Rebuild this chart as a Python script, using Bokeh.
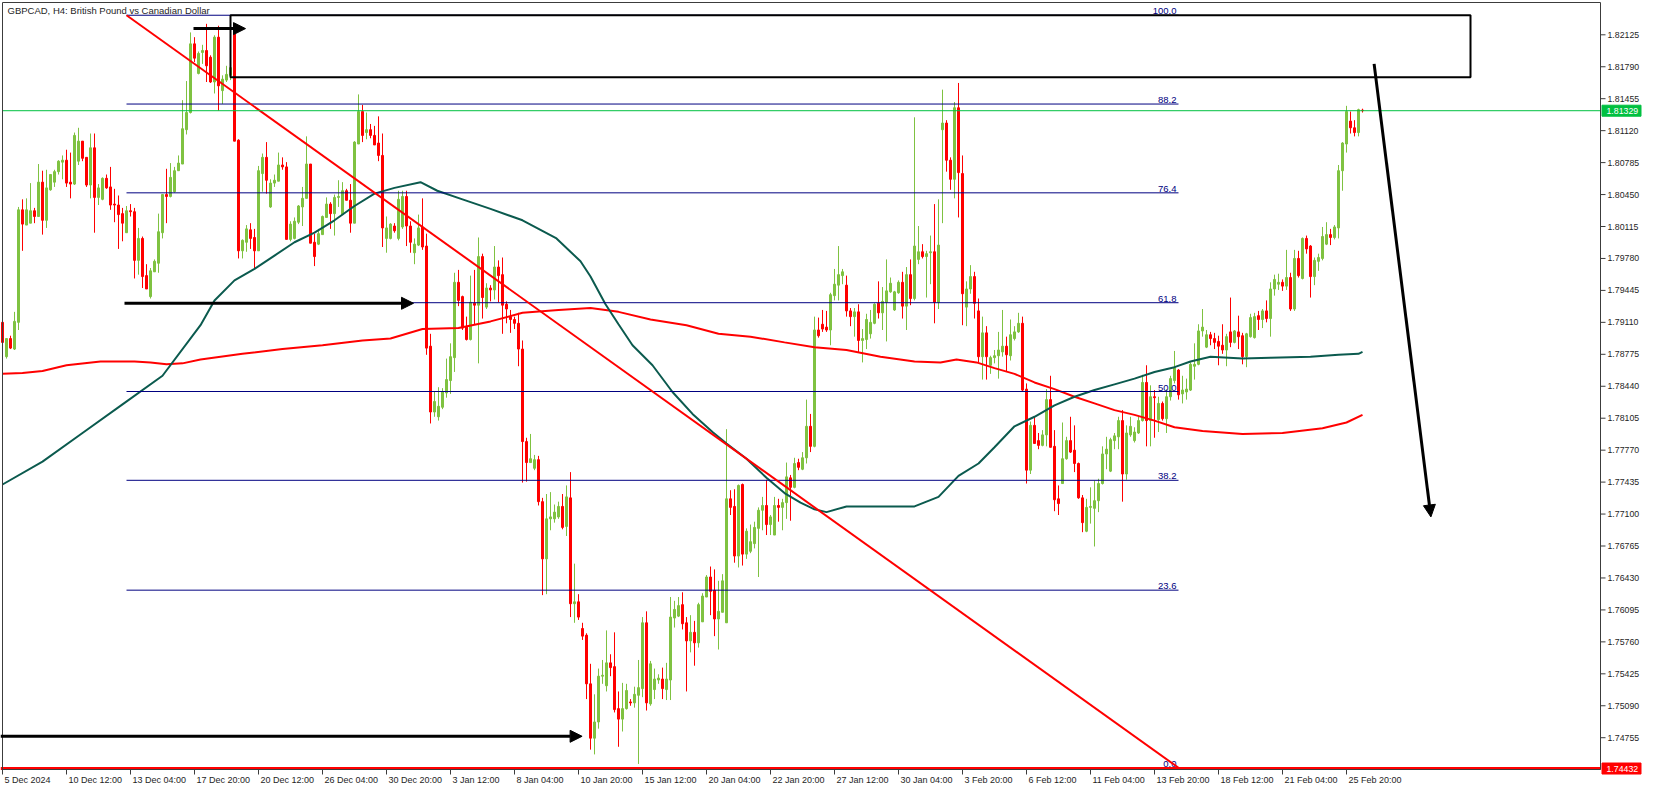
from bokeh.plotting import figure
from bokeh.models import ColumnDataSource, Range1d, Arrow, NormalHead
from bokeh.core.properties import value
from bokeh.embed import file_html
from bokeh.resources import INLINE

# ---------------- data (GBPCAD H4 candles) ----------------
bar_open = [
    1.7911, 1.7875, 1.7894, 1.7883, 1.7911, 1.8029, 1.8013, 1.8015, 1.8028, 1.8022,
    1.8058, 1.8018, 1.8050, 1.8058, 1.8069, 1.8079, 1.8081, 1.8058, 1.8056, 1.8080,
    1.8101, 1.8084, 1.8055, 1.8094, 1.8042, 1.8040, 1.8062, 1.8053, 1.8035, 1.8034,
    1.8025, 1.8005, 1.8028, 1.8027, 1.7976, 1.7999, 1.7960, 1.7938, 1.7964, 1.7973,
    1.8005, 1.8045, 1.8043, 1.8048, 1.8070, 1.8077, 1.8113, 1.8131, 1.8203, 1.8172,
    1.8194, 1.8196, 1.8189, 1.8163, 1.8210, 1.8154, 1.8165, 1.8170, 1.8218, 1.8102,
    1.7986, 1.7995, 1.8008, 1.8000, 1.7986, 1.8067, 1.8084, 1.8032, 1.8057, 1.8059,
    1.8076, 1.8074, 1.7998, 1.7999, 1.8016, 1.8032, 1.8041, 1.8077, 1.7995, 1.7993,
    1.8003, 1.8021, 1.8035, 1.8025, 1.8042, 1.8024, 1.8049, 1.8039, 1.8015, 1.8098,
    1.8132, 1.8110, 1.8113, 1.8107, 1.8099, 1.8086, 1.7999, 1.7999, 1.8012, 1.7999,
    1.8011, 1.8043, 1.8012, 1.7984, 1.7992, 1.8011, 1.7991, 1.7886, 1.7817, 1.7812,
    1.7822, 1.7837, 1.7850, 1.7874, 1.7953, 1.7938, 1.7906, 1.7893, 1.7931, 1.7929,
    1.7980, 1.7927, 1.7947, 1.7945, 1.7969, 1.7961, 1.7930, 1.7917, 1.7914, 1.7910,
    1.7883, 1.7786, 1.7764, 1.7758, 1.7767, 1.7723, 1.7663, 1.7705, 1.7705, 1.7707,
    1.7718, 1.7697, 1.7727, 1.7616, 1.7618, 1.7590, 1.7583, 1.7532, 1.7475, 1.7492,
    1.7540, 1.7530, 1.7554, 1.7550, 1.7506, 1.7495, 1.7506, 1.7513, 1.7512, 1.7520,
    1.7527, 1.7596, 1.7511, 1.7526, 1.7536, 1.7537, 1.7526, 1.7536, 1.7601, 1.7603,
    1.7615, 1.7596, 1.7577, 1.7586, 1.7575, 1.7597, 1.7623, 1.7644, 1.7630, 1.7600,
    1.7607, 1.7596, 1.7726, 1.7718, 1.7666, 1.7741, 1.7668, 1.7671, 1.7679, 1.7695,
    1.7714, 1.7719, 1.7699, 1.7688, 1.7719, 1.7717, 1.7722, 1.7748, 1.7738, 1.7764,
    1.7757, 1.7769, 1.7802, 1.7781, 1.7903, 1.7909, 1.7906, 1.7903, 1.7939, 1.7950,
    1.7960, 1.7950, 1.7923, 1.7917, 1.7922, 1.7892, 1.7893, 1.7899, 1.7910, 1.7931,
    1.7921, 1.7932, 1.7943, 1.7924, 1.7942, 1.7953, 1.7928, 1.7961, 1.7936, 1.7977,
    1.7985, 1.7980, 1.7984, 1.7985, 1.7932, 1.8113, 1.8120, 1.8081, 1.8061, 1.8136,
    1.8067, 1.7927, 1.7946, 1.7959, 1.7923, 1.7875, 1.7900, 1.7866, 1.7874, 1.7876,
    1.7880, 1.7886, 1.7876, 1.7894, 1.7901, 1.7910, 1.7841, 1.7756, 1.7803, 1.7787,
    1.7782, 1.7793, 1.7830, 1.7781, 1.7726, 1.7742, 1.7768, 1.7787, 1.7777, 1.7763,
    1.7727, 1.7692, 1.7717, 1.7716, 1.7724, 1.7742, 1.7773, 1.7755, 1.7787, 1.7791,
    1.7808, 1.7752, 1.7793, 1.7787, 1.7795, 1.7808, 1.7848, 1.7808, 1.7833, 1.7809,
    1.7826, 1.7810, 1.7833, 1.7850, 1.7861, 1.7836, 1.7838, 1.7840, 1.7865, 1.7867,
    1.7902, 1.7885, 1.7898, 1.7894, 1.7891, 1.7887, 1.7882, 1.7901, 1.7890, 1.7901,
    1.7897, 1.7875, 1.7896, 1.7895, 1.7918, 1.7914, 1.7923, 1.7915, 1.7946, 1.7951,
    1.7953, 1.7949, 1.7958, 1.7925, 1.7978, 1.7957, 1.7999, 1.7991, 1.7959, 1.7975,
    1.7978, 1.7993, 1.8003, 1.8000, 1.8010, 1.8070, 1.8098, 1.8122, 1.8115, 1.8110,
    1.81335,
]
bar_high = [
    1.7912, 1.7894, 1.7897, 1.7922, 1.8032, 1.8040, 1.8041, 1.8057, 1.8031, 1.8077,
    1.8070, 1.8071, 1.8066, 1.8071, 1.8081, 1.8086, 1.8092, 1.8089, 1.8110, 1.8115,
    1.8101, 1.8084, 1.8109, 1.8109, 1.8056, 1.8063, 1.8066, 1.8074, 1.8051, 1.8044,
    1.8031, 1.8033, 1.8035, 1.8031, 1.8010, 1.8001, 1.7972, 1.7968, 1.7977, 1.8025,
    1.8045, 1.8072, 1.8078, 1.8074, 1.8086, 1.8144, 1.8164, 1.8215, 1.8210, 1.8195,
    1.8202, 1.8224, 1.8191, 1.8212, 1.8222, 1.8170, 1.8180, 1.8185, 1.8220, 1.8103,
    1.7998, 1.8013, 1.8015, 1.8009, 1.8075, 1.8088, 1.8100, 1.8061, 1.8066, 1.8089,
    1.8084, 1.8079, 1.8017, 1.8021, 1.8034, 1.8053, 1.8106, 1.8077, 1.8004, 1.8009,
    1.8023, 1.8042, 1.8037, 1.8045, 1.8060, 1.8058, 1.8051, 1.8056, 1.8101, 1.8150,
    1.8139, 1.8131, 1.8119, 1.8117, 1.8127, 1.8109, 1.8022, 1.8015, 1.8015, 1.8049,
    1.8049, 1.8049, 1.8017, 1.7999, 1.8024, 1.8041, 1.8004, 1.7899, 1.7838, 1.7843,
    1.7842, 1.7873, 1.7889, 1.7963, 1.7966, 1.7939, 1.7917, 1.7960, 1.7966, 1.8000,
    1.7983, 1.7952, 1.7950, 1.7991, 1.7976, 1.7979, 1.7933, 1.7924, 1.7917, 1.7921,
    1.7892, 1.7790, 1.7794, 1.7772, 1.7771, 1.7727, 1.7731, 1.7733, 1.7720, 1.7723,
    1.7731, 1.7740, 1.7754, 1.7658, 1.7626, 1.7596, 1.7585, 1.7553, 1.7521, 1.7548,
    1.7557, 1.7588, 1.7563, 1.7586, 1.7524, 1.7533, 1.7532, 1.7516, 1.7529, 1.7557,
    1.7602, 1.7608, 1.7556, 1.7548, 1.7542, 1.7549, 1.7554, 1.7623, 1.7619, 1.7623,
    1.7628, 1.7602, 1.7604, 1.7598, 1.7617, 1.7627, 1.7646, 1.7655, 1.7652, 1.7640,
    1.7647, 1.7799, 1.7735, 1.7736, 1.7741, 1.7742, 1.7695, 1.7699, 1.7702, 1.7717,
    1.7728, 1.7746, 1.7709, 1.7728, 1.7726, 1.7726, 1.7764, 1.7751, 1.7769, 1.7768,
    1.7775, 1.7830, 1.7815, 1.7917, 1.7916, 1.7924, 1.7923, 1.7942, 1.7967, 1.7991,
    1.7967, 1.7960, 1.7926, 1.7926, 1.7930, 1.7904, 1.7920, 1.7924, 1.7931, 1.7954,
    1.7948, 1.7977, 1.7958, 1.7944, 1.7955, 1.7964, 1.7969, 1.7977, 1.8126, 1.8012,
    1.7993, 1.7986, 1.8002, 1.8035, 1.8040, 1.8155, 1.8123, 1.8084, 1.8142, 1.8162,
    1.8086, 1.7954, 1.7971, 1.7964, 1.7936, 1.7917, 1.7907, 1.7876, 1.7882, 1.7901,
    1.7924, 1.7896, 1.7914, 1.7907, 1.7921, 1.7917, 1.7847, 1.7807, 1.7812, 1.7795,
    1.7798, 1.7841, 1.7855, 1.7798, 1.7740, 1.7806, 1.7791, 1.7812, 1.7803, 1.7764,
    1.7730, 1.7726, 1.7738, 1.7745, 1.7747, 1.7781, 1.7791, 1.7790, 1.7795, 1.7812,
    1.7819, 1.7803, 1.7812, 1.7801, 1.7812, 1.7856, 1.7866, 1.7845, 1.7840, 1.7833,
    1.7828, 1.7841, 1.7855, 1.7881, 1.7862, 1.7855, 1.7852, 1.7869, 1.7889, 1.7909,
    1.7925, 1.7903, 1.7901, 1.7900, 1.7897, 1.7909, 1.7899, 1.7937, 1.7903, 1.7918,
    1.7900, 1.7900, 1.7920, 1.7921, 1.7923, 1.7925, 1.7934, 1.7953, 1.7961, 1.7962,
    1.7956, 1.7987, 1.7963, 1.7987, 1.7986, 1.8000, 1.8002, 1.7992, 1.7979, 1.7983,
    1.8011, 1.8016, 1.8009, 1.8013, 1.8076, 1.8100, 1.8138, 1.8132, 1.8123, 1.8135,
    1.8135,
]
bar_low = [
    1.7888, 1.7873, 1.7883, 1.7882, 1.7903, 1.7986, 1.8013, 1.8015, 1.8015, 1.8022,
    1.8003, 1.8010, 1.8049, 1.8053, 1.8066, 1.8061, 1.8053, 1.8041, 1.8055, 1.8076,
    1.8080, 1.8053, 1.8041, 1.8005, 1.8034, 1.8039, 1.8051, 1.8029, 1.8016, 1.7988,
    1.7996, 1.8005, 1.8022, 1.7957, 1.7961, 1.7947, 1.7946, 1.7936, 1.7964, 1.7963,
    1.7999, 1.8015, 1.8042, 1.8047, 1.8070, 1.8077, 1.8108, 1.8130, 1.8184, 1.8171,
    1.8182, 1.8163, 1.8162, 1.8151, 1.8133, 1.8140, 1.8163, 1.8165, 1.8101, 1.7978,
    1.7978, 1.7985, 1.7988, 1.7967, 1.7986, 1.8048, 1.8046, 1.8031, 1.8053, 1.8059,
    1.8071, 1.7998, 1.7996, 1.7998, 1.8014, 1.8012, 1.8041, 1.7994, 1.7970, 1.7992,
    1.8003, 1.8021, 1.8009, 1.8002, 1.8032, 1.8024, 1.8039, 1.8005, 1.8015, 1.8098,
    1.8100, 1.8103, 1.8104, 1.8097, 1.8080, 1.7990, 1.7984, 1.7998, 1.8005, 1.7997,
    1.8009, 1.7991, 1.7984, 1.7972, 1.7991, 1.7987, 1.7877, 1.7805, 1.7812, 1.7808,
    1.7820, 1.7832, 1.7836, 1.7859, 1.7928, 1.7903, 1.7892, 1.7892, 1.7909, 1.7868,
    1.7915, 1.7925, 1.7933, 1.7935, 1.7932, 1.7899, 1.7910, 1.7900, 1.7904, 1.7865,
    1.7743, 1.7744, 1.7764, 1.7756, 1.7719, 1.7625, 1.7626, 1.7693, 1.7701, 1.7705,
    1.7694, 1.7687, 1.7602, 1.7596, 1.7599, 1.7578, 1.7516, 1.7463, 1.7458, 1.7485,
    1.7532, 1.7524, 1.7540, 1.7502, 1.7466, 1.7482, 1.7505, 1.7509, 1.7507, 1.7448,
    1.7518, 1.7504, 1.7509, 1.7516, 1.7532, 1.7516, 1.7515, 1.7515, 1.7591, 1.7602,
    1.7589, 1.7524, 1.7565, 1.7551, 1.7570, 1.7597, 1.7623, 1.7604, 1.7582, 1.7568,
    1.7607, 1.7596, 1.7709, 1.7659, 1.7654, 1.7656, 1.7663, 1.7669, 1.7674, 1.7644,
    1.7693, 1.7688, 1.7688, 1.7688, 1.7702, 1.7693, 1.7705, 1.7703, 1.7737, 1.7756,
    1.7756, 1.7763, 1.7775, 1.7780, 1.7895, 1.7901, 1.7901, 1.7887, 1.7934, 1.7934,
    1.7951, 1.7917, 1.7907, 1.7896, 1.7880, 1.7869, 1.7883, 1.7894, 1.7909, 1.7915,
    1.7903, 1.7891, 1.7942, 1.7923, 1.7941, 1.7915, 1.7903, 1.7929, 1.7934, 1.7972,
    1.7978, 1.7937, 1.7951, 1.7910, 1.7925, 1.8015, 1.8069, 1.8050, 1.8041, 1.8021,
    1.7908, 1.7907, 1.7941, 1.7915, 1.7869, 1.7851, 1.7851, 1.7857, 1.7868, 1.7852,
    1.7875, 1.7859, 1.7871, 1.7892, 1.7900, 1.7838, 1.7742, 1.7752, 1.7784, 1.7778,
    1.7781, 1.7781, 1.7780, 1.7713, 1.7709, 1.7742, 1.7767, 1.7774, 1.7754, 1.7726,
    1.7691, 1.7691, 1.7700, 1.7676, 1.7712, 1.7741, 1.7757, 1.7754, 1.7778, 1.7778,
    1.7723, 1.7746, 1.7791, 1.7785, 1.7794, 1.7807, 1.7781, 1.7781, 1.7790, 1.7796,
    1.7808, 1.7795, 1.7829, 1.7847, 1.7830, 1.7826, 1.7830, 1.7839, 1.7851, 1.7866,
    1.7896, 1.7884, 1.7887, 1.7883, 1.7866, 1.7878, 1.7865, 1.7885, 1.7889, 1.7883,
    1.7867, 1.7864, 1.7895, 1.7894, 1.7903, 1.7905, 1.7911, 1.7896, 1.7939, 1.7945,
    1.7944, 1.7945, 1.7923, 1.7923, 1.7958, 1.7956, 1.7983, 1.7937, 1.7950, 1.7965,
    1.7976, 1.7992, 1.7992, 1.7998, 1.7999, 1.8049, 1.8089, 1.8109, 1.8106, 1.8106,
    1.8131,
]
bar_close = [
    1.7890, 1.7894, 1.7884, 1.7912, 1.8029, 1.8014, 1.8029, 1.8028, 1.8022, 1.8058,
    1.8018, 1.8052, 1.8066, 1.8069, 1.8080, 1.8081, 1.8057, 1.8056, 1.8107, 1.8101,
    1.8083, 1.8055, 1.8094, 1.8042, 1.8052, 1.8062, 1.8052, 1.8034, 1.8034, 1.8024,
    1.8015, 1.8028, 1.8027, 1.7976, 1.7999, 1.7959, 1.7946, 1.7965, 1.7975, 1.8006,
    1.8045, 1.8043, 1.8063, 1.8070, 1.8078, 1.8114, 1.8131, 1.8203, 1.8188, 1.8193,
    1.8196, 1.8180, 1.8163, 1.8210, 1.8159, 1.8166, 1.8171, 1.8178, 1.8101, 1.7986,
    1.7997, 1.8009, 1.7999, 1.7986, 1.8070, 1.8084, 1.8060, 1.8057, 1.8060, 1.8076,
    1.8074, 1.7998, 1.8014, 1.8017, 1.8033, 1.8041, 1.8077, 1.7994, 1.7980, 1.8004,
    1.8022, 1.8035, 1.8025, 1.8042, 1.8043, 1.8049, 1.8039, 1.8015, 1.8100, 1.8132,
    1.8107, 1.8113, 1.8107, 1.8097, 1.8086, 1.8010, 1.8010, 1.8014, 1.8007, 1.8040,
    1.8043, 1.8012, 1.7995, 1.7993, 1.8010, 1.7990, 1.7884, 1.7817, 1.7828, 1.7823,
    1.7838, 1.7851, 1.7875, 1.7953, 1.7934, 1.7905, 1.7893, 1.7932, 1.7929, 1.7980,
    1.7937, 1.7947, 1.7945, 1.7969, 1.7960, 1.7929, 1.7925, 1.7914, 1.7910, 1.7883,
    1.7786, 1.7764, 1.7768, 1.7767, 1.7723, 1.7663, 1.7705, 1.7707, 1.7712, 1.7718,
    1.7696, 1.7728, 1.7616, 1.7618, 1.7602, 1.7582, 1.7532, 1.7475, 1.7492, 1.7540,
    1.7541, 1.7554, 1.7549, 1.7505, 1.7495, 1.7506, 1.7525, 1.7512, 1.7521, 1.7528,
    1.7596, 1.7512, 1.7553, 1.7537, 1.7538, 1.7527, 1.7537, 1.7602, 1.7610, 1.7614,
    1.7595, 1.7577, 1.7586, 1.7575, 1.7615, 1.7624, 1.7644, 1.7629, 1.7600, 1.7608,
    1.7640, 1.7726, 1.7717, 1.7666, 1.7740, 1.7668, 1.7692, 1.7681, 1.7696, 1.7714,
    1.7719, 1.7699, 1.7707, 1.7719, 1.7717, 1.7722, 1.7749, 1.7738, 1.7763, 1.7759,
    1.7769, 1.7802, 1.7781, 1.7903, 1.7897, 1.7904, 1.7903, 1.7940, 1.7951, 1.7961,
    1.7964, 1.7923, 1.7917, 1.7922, 1.7892, 1.7894, 1.7914, 1.7911, 1.7930, 1.7921,
    1.7933, 1.7944, 1.7952, 1.7943, 1.7953, 1.7928, 1.7961, 1.7936, 1.7991, 1.7985,
    1.7980, 1.7983, 1.7985, 1.7932, 1.7992, 1.8120, 1.8081, 1.8061, 1.8136, 1.8068,
    1.7941, 1.7946, 1.7959, 1.7931, 1.7875, 1.7900, 1.7875, 1.7874, 1.7876, 1.7882,
    1.7886, 1.7877, 1.7898, 1.7901, 1.7910, 1.7840, 1.7756, 1.7803, 1.7784, 1.7782,
    1.7793, 1.7830, 1.7780, 1.7725, 1.7721, 1.7768, 1.7787, 1.7775, 1.7763, 1.7727,
    1.7701, 1.7717, 1.7718, 1.7724, 1.7742, 1.7773, 1.7778, 1.7788, 1.7792, 1.7808,
    1.7752, 1.7795, 1.7802, 1.7796, 1.7808, 1.7848, 1.7808, 1.7833, 1.7832, 1.7826,
    1.7810, 1.7833, 1.7852, 1.7864, 1.7835, 1.7840, 1.7841, 1.7867, 1.7867, 1.7902,
    1.7906, 1.7898, 1.7894, 1.7890, 1.7886, 1.7882, 1.7896, 1.7890, 1.7902, 1.7896,
    1.7875, 1.7899, 1.7916, 1.7917, 1.7914, 1.7923, 1.7915, 1.7946, 1.7956, 1.7953,
    1.7949, 1.7958, 1.7925, 1.7978, 1.7960, 1.7999, 1.7988, 1.7959, 1.7976, 1.7979,
    1.8001, 1.8003, 1.8000, 1.8011, 1.8070, 1.8099, 1.8132, 1.8115, 1.8110, 1.8134,
    1.81329,
]

# moving averages (bar index, value)
ma_fast_index = [0, 10, 20, 30, 40, 49.5, 53, 58, 63, 68, 73, 78, 83, 88, 93, 98, 104.5,
                 108.7, 115, 122, 130, 138.5, 144.5, 147, 150.75, 154, 157.5, 162.5, 167.5,
                 172.5, 177.5, 181, 186, 191, 195.5, 199.5, 203, 206, 211, 218, 228, 234,
                 239, 244, 248, 253, 258, 263, 268, 273, 278, 283, 288, 293, 297, 302, 310,
                 317, 327, 334, 339, 340]
ma_fast_value = [1.7741, 1.7765, 1.7795, 1.7825, 1.7855, 1.7908, 1.7934, 1.7955, 1.7967,
                 1.7981, 1.7995, 1.8005, 1.8018, 1.8033, 1.8046, 1.8052, 1.8058, 1.8049,
                 1.8040, 1.8030, 1.8018, 1.7999, 1.7975, 1.7959, 1.7930, 1.7909, 1.7887,
                 1.7866, 1.7838, 1.7815, 1.7796, 1.7784, 1.7768, 1.7748, 1.7732, 1.7722,
                 1.7715, 1.7712, 1.7718, 1.7718, 1.7718, 1.7728, 1.7750, 1.7763, 1.7780,
                 1.7802, 1.7812, 1.7824, 1.7833, 1.7840, 1.7846, 1.7852, 1.7859, 1.7864,
                 1.7870, 1.7875, 1.7873, 1.7874, 1.7875, 1.7877, 1.7878, 1.7880]
ma_slow_index = [0, 5, 10, 16, 24.5, 33, 37, 41, 45, 49.5, 60, 70, 80, 90, 97, 105, 114,
                 122, 130, 139, 147, 154, 162, 171, 179, 187, 195.5, 203, 211, 219.5, 228,
                 234.5, 238.5, 243.5, 248, 253, 258, 263, 268, 273, 278, 283, 288, 293, 300,
                 310, 320, 330, 336, 340]
ma_slow_value = [1.7857, 1.7858, 1.7860, 1.7866, 1.7870, 1.7870, 1.7869, 1.7867, 1.7868,
                 1.7872, 1.7878, 1.7883, 1.7887, 1.7892, 1.7894, 1.7904, 1.7905, 1.7912,
                 1.7921, 1.7924, 1.7926, 1.7922, 1.7914, 1.7908, 1.7899, 1.7896, 1.7890,
                 1.7885, 1.7882, 1.7875, 1.7870, 1.7869, 1.7872, 1.7869, 1.7863, 1.7857,
                 1.7848, 1.7841, 1.7833, 1.7826, 1.7819, 1.7814, 1.7808, 1.7801, 1.7797,
                 1.7794, 1.7795, 1.7800, 1.7806, 1.7814]

# Fibonacci retracement
fib_levels = [0.0, 23.6, 38.2, 50.0, 61.8, 76.4, 88.2, 100.0]
fib_labels = ["0.0", "23.6", "38.2", "50.0", "61.8", "76.4", "88.2", "100.0"]
fib_low = 1.7444
fib_high = 1.8233
fib_start_index = 31
fib_end_index = 294

# rectangle zone
zone_left_index = 57
zone_right_index = 367
zone_top = 1.8233
zone_bottom = 1.8168

# arrows: start / end in (bar index, price)
arrow_x_start = [47.75, 30.5, -0.5, 342.9]
arrow_y_start = [1.8219, 1.7931, 1.7477, 1.8182]
arrow_x_end = [60.75, 102.75, 144.9, 357.1]
arrow_y_end = [1.8219, 1.7931, 1.7477, 1.7707]

current_price = 1.81329
low_line_price = 1.74432

date_tick_index = [0, 16, 32, 48, 64, 80, 96, 112, 128, 144, 160, 176, 192, 208, 224,
                   240, 256, 272, 288, 304, 320, 336]
date_tick_labels = ["5 Dec 2024", "10 Dec 12:00", "13 Dec 04:00", "17 Dec 20:00",
                    "20 Dec 12:00", "26 Dec 04:00", "30 Dec 20:00", "3 Jan 12:00",
                    "8 Jan 04:00", "10 Jan 20:00", "15 Jan 12:00", "20 Jan 04:00",
                    "22 Jan 20:00", "27 Jan 12:00", "30 Jan 04:00", "3 Feb 20:00",
                    "6 Feb 12:00", "11 Feb 04:00", "13 Feb 20:00", "18 Feb 12:00",
                    "21 Feb 04:00", "25 Feb 20:00"]
price_ticks = [1.74755, 1.75090, 1.75425, 1.75760, 1.76095, 1.76430, 1.76765, 1.77100,
               1.77435, 1.77770, 1.78105, 1.78440, 1.78775, 1.79110, 1.79445, 1.79780,
               1.80115, 1.80450, 1.80785, 1.81120, 1.81455, 1.81790, 1.82125]
price_tick_labels = ["%.5f" % t for t in price_ticks]

title_text = "GBPCAD, H4:  British Pound vs Canadian Dollar"

# ---------------- layout / styling ----------------
FONT = "Liberation Sans"
BULL = "#7FC241"
BEAR = "#FF0000"
TEAL = "#0B5A4E"
NAVY = "#000080"
LIME = "#00C040"
AXIS = "#3c3c3c"
TXT = "#1e1e1e"

W, H = 1650, 788
BAR_PX = 4.0                     # pixels per bar
PRICE_PX = 9537.5                # pixels per price unit
PX_X = 1.0 / BAR_PX              # one pixel in bar units
PX_Y = 1.0 / PRICE_PX            # one pixel in price units
X0 = -0.5
X1 = X0 + W * PX_X
Y1 = 1.82125 + 34.3 * PX_Y
Y0 = Y1 - H * PX_Y

AXIS_X = X0 + 1600 * PX_X        # right price-axis line
CHART_LEFT = X0 + 2 * PX_X
CHART_TOP = Y1 - 2 * PX_Y
CHART_BOTTOM = Y1 - 769 * PX_Y   # time-axis line

p = figure(width=W, height=H, x_range=Range1d(X0, X1), y_range=Range1d(Y0, Y1),
           x_axis_location=None, y_axis_location=None, min_border=0,
           outline_line_color=None, output_backend="svg", toolbar_location=None,
           background_fill_color="white", border_fill_color="white")
for g in p.grid:
    g.visible = False

# candles
bar_index = list(range(len(bar_close)))
colors = [BULL if c >= o else BEAR for o, c in zip(bar_open, bar_close)]
src = ColumnDataSource(dict(
    x=bar_index, h=bar_high, l=bar_low,
    top=[max(o, c) for o, c in zip(bar_open, bar_close)],
    bottom=[min(o, c) for o, c in zip(bar_open, bar_close)],
    color=colors))
p.segment(x0="x", y0="l", x1="x", y1="h", line_color="color", line_width=1, source=src)
p.vbar(x="x", width=0.5, top="top", bottom="bottom", fill_color="color",
       line_color="color", line_width=1, source=src)

# moving averages
p.line(ma_slow_index, ma_slow_value, line_color="#FF0000", line_width=2)
p.line(ma_fast_index, ma_fast_value, line_color=TEAL, line_width=2)

# fibonacci
fib_prices = [fib_low + lv / 100.0 * (fib_high - fib_low) for lv in fib_levels]
fsrc = ColumnDataSource(dict(
    x0=[fib_start_index] * len(fib_prices), x1=[fib_end_index] * len(fib_prices),
    y=fib_prices, t=fib_labels))
p.segment(x0="x0", y0="y", x1="x1", y1="y", line_color=NAVY, line_width=1, source=fsrc)
p.text(x="x1", y="y", text="t", source=fsrc, x_offset=-2, y_offset=-4,
       text_align="right", text_baseline="alphabetic",
       text_font=value(FONT), text_font_size="9.5px", text_color=NAVY)
p.line([fib_start_index, fib_end_index], [fib_high, fib_low], line_color="#FF0000",
       line_width=2)

# horizontal price lines
p.segment(x0=[CHART_LEFT], y0=[current_price], x1=[AXIS_X], y1=[current_price],
          line_color=LIME, line_width=1)
p.segment(x0=[X0], y0=[low_line_price], x1=[AXIS_X], y1=[low_line_price],
          line_color="#FF0000", line_width=3)

# zone rectangle
p.quad(left=[zone_left_index], right=[zone_right_index], top=[zone_top],
       bottom=[zone_bottom], fill_alpha=0, line_color="black", line_width=2)

# arrows
for xs, ys, xe, ye in zip(arrow_x_start, arrow_y_start, arrow_x_end, arrow_y_end):
    p.add_layout(Arrow(end=NormalHead(size=12, fill_color="black", line_color="black"),
                       x_start=xs, y_start=ys, x_end=xe, y_end=ye,
                       line_color="black", line_width=3))

# chart border (left/top) and axis lines (right/bottom)
p.quad(left=[CHART_LEFT], right=[AXIS_X], top=[CHART_TOP], bottom=[CHART_BOTTOM],
       fill_alpha=0, line_color=AXIS, line_width=1)

# price axis: ticks + labels
n_pt = len(price_ticks)
psrc = ColumnDataSource(dict(x0=[AXIS_X] * n_pt, x1=[AXIS_X + 5 * PX_X] * n_pt,
                             y=price_ticks, t=price_tick_labels))
p.segment(x0="x0", y0="y", x1="x1", y1="y", line_color=AXIS, line_width=1, source=psrc)
p.text(x="x0", y="y", text="t", source=psrc, x_offset=7, y_offset=0,
       text_align="left", text_baseline="middle",
       text_font=value(FONT), text_font_size="8.75px", text_color=TXT)

# time axis: ticks + labels
n_dt = len(date_tick_index)
dsrc = ColumnDataSource(dict(x=date_tick_index, y0=[CHART_BOTTOM] * n_dt,
                             y1=[CHART_BOTTOM - 5 * PX_Y] * n_dt, t=date_tick_labels))
p.segment(x0="x", y0="y0", x1="x", y1="y1", line_color=AXIS, line_width=1, source=dsrc)
p.text(x="x", y="y0", text="t", source=dsrc, x_offset=2, y_offset=5,
       text_align="left", text_baseline="top",
       text_font=value(FONT), text_font_size="9px", text_color=TXT)

# price boxes at the right axis
box_src = ColumnDataSource(dict(
    y=[current_price, low_line_price],
    t=["%.5f" % current_price, "%.5f" % low_line_price],
    color=[LIME, "#FF0000"]))
p.rect(x=AXIS_X + 21 * PX_X, y="y", width=39 * PX_X, height=11 * PX_Y,
       fill_color="color", line_color="color", source=box_src)
p.text(x=AXIS_X, y="y", text="t", source=box_src, x_offset=6, y_offset=0,
       text_align="left", text_baseline="middle",
       text_font=value(FONT), text_font_size="8.75px", text_color="white")

# title
p.text(x=[CHART_LEFT], y=[CHART_TOP], text=[title_text], x_offset=5, y_offset=2,
       text_align="left", text_baseline="top",
       text_font=value(FONT), text_font_size="9.5px", text_color=TXT)

open("out.html", "w").write(file_html(p, INLINE))
